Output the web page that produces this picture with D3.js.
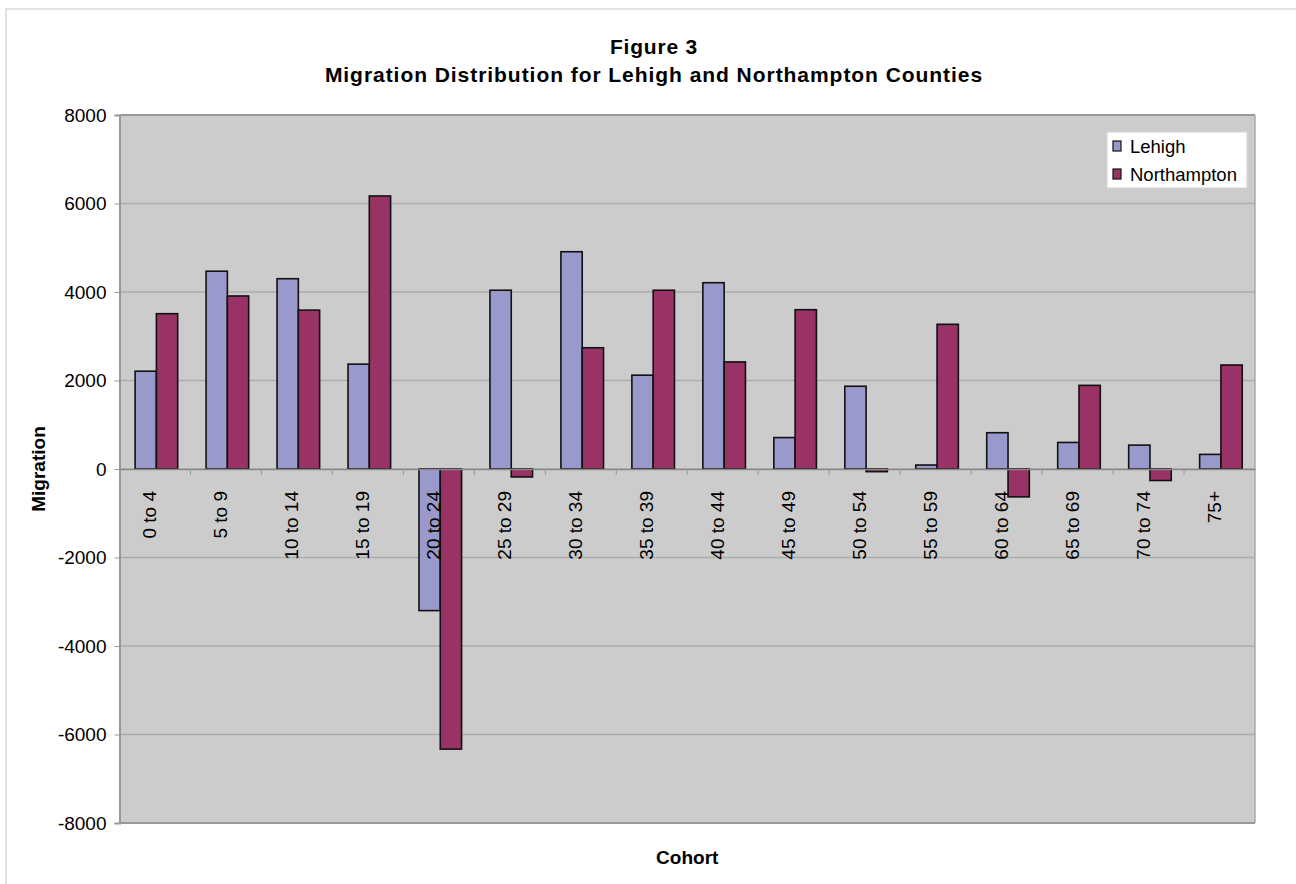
<!DOCTYPE html>
<html>
<head>
<meta charset="utf-8">
<script src="https://cdn.jsdelivr.net/npm/d3@7"></script>
<style>
  body { margin: 0; background: #fff; }
  text { font-family: "Liberation Sans", Arial, sans-serif; fill: #000; }
</style>
</head>
<body>
<script>
// Данные графика
const cohorts = ["0 to 4", "5 to 9", "10 to 14", "15 to 19", "20 to 24", "25 to 29", "30 to 34", "35 to 39",
  "40 to 44", "45 to 49", "50 to 54", "55 to 59", "60 to 64", "65 to 69", "70 to 74", "75+"];
const series = ["Lehigh", "Northampton"];
const lehigh = [2210, 4470, 4300, 2370, -3200, 4040, 4910, 2120, 4210, 710, 1870, 90, 820, 600, 540, 330];
const northampton = [3510, 3910, 3590, 6170, -6330, -180, 2740, 4040, 2420, 3600, -60, 3270, -630, 1890, -260, 2350];
const yTicks = [-8000, -6000, -4000, -2000, 0, 2000, 4000, 6000, 8000];
const colors = ["#9999cc", "#993366"];

const width = 1296;
const height = 884;
const plot = { left: 119.5, right: 1255, top: 115, bottom: 823 };

const svg = d3.select("body").append("svg").attr("width", width).attr("height", height);

// рамка всей диаграммы
svg.append("rect")
  .attr("x", 6).attr("y", 9).attr("width", 1310).attr("height", 900)
  .attr("fill", "none").attr("stroke", "#e2e2e2").attr("stroke-width", 2);

const x0 = d3.scaleBand().domain(cohorts).range([plot.left, plot.right]);
const x1 = d3.scaleBand().domain(series).range([x0.bandwidth() * 0.22, x0.bandwidth() * 0.82]);
const y = d3.scaleLinear().domain([-8000, 8000]).range([plot.bottom, plot.top]);

// фон области построения
svg.append("rect")
  .attr("x", plot.left).attr("y", plot.top)
  .attr("width", plot.right - plot.left).attr("height", plot.bottom - plot.top)
  .attr("fill", "#cccccc");

// сетка
svg.selectAll(".grid")
  .data(yTicks)
  .enter()
  .append("line")
  .attr("class", "grid")
  .attr("x1", plot.left).attr("x2", plot.right)
  .attr("y1", (d) => y(d)).attr("y2", (d) => y(d))
  .attr("stroke", (d) => (d === 8000 || d === -8000 ? "#999" : "#acacac"))
  .attr("stroke-width", (d) => (d === 8000 || d === -8000 ? 2 : 1.3));

// правая граница
svg.append("line")
  .attr("x1", plot.right).attr("x2", plot.right).attr("y1", plot.top).attr("y2", plot.bottom)
  .attr("stroke", "#aaa").attr("stroke-width", 1.5);

// ось Y (обычный дефис вместо знака минус)
const yAxis = svg.append("g")
  .attr("transform", `translate(${plot.left},0)`)
  .call(d3.axisLeft(y).tickValues(yTicks).tickSize(5).tickPadding(8).tickFormat((d) => String(d)));
yAxis.select(".domain").attr("stroke", "#999").attr("stroke-width", 2);
yAxis.selectAll(".tick line").attr("stroke", "#999");
yAxis.selectAll("text").style("font-size", "19px").attr("fill", "#111");

// столбцы
const data = cohorts.map((c, i) => ({ cohort: c, values: [lehigh[i], northampton[i]] }));

const groups = svg.selectAll(".cohort")
  .data(data)
  .enter()
  .append("g")
  .attr("class", "cohort")
  .attr("transform", (d) => `translate(${x0(d.cohort)},0)`);

groups.selectAll("rect")
  .data((d) => d.values.map((v, j) => ({ key: series[j], value: v, j: j })))
  .enter()
  .append("rect")
  .attr("x", (d) => x1(d.key))
  .attr("width", x1.bandwidth())
  .attr("y", (d) => y(Math.max(0, d.value)))
  .attr("height", (d) => Math.abs(y(d.value) - y(0)))
  .attr("fill", (d) => colors[d.j])
  .attr("stroke", "#111")
  .attr("stroke-width", 1.6);

// ось X (по нулю)
const xAxis = svg.append("g")
  .attr("transform", `translate(0,${y(0)})`)
  .call(d3.axisBottom(x0).tickSize(0).tickFormat(""));
xAxis.select(".domain").attr("stroke", "#888").attr("stroke-width", 1.5);

svg.selectAll(".xtick")
  .data(cohorts.slice(1))
  .enter()
  .append("line")
  .attr("class", "xtick")
  .attr("x1", (d) => x0(d)).attr("x2", (d) => x0(d))
  .attr("y1", y(0)).attr("y2", y(0) + 6)
  .attr("stroke", "#999");

svg.selectAll(".xlabel")
  .data(cohorts)
  .enter()
  .append("text")
  .attr("class", "xlabel")
  .attr("transform", (d) => `translate(${x0(d) + x0.bandwidth() / 2 + 1},${y(0) + 22}) rotate(-90)`)
  .attr("text-anchor", "end")
  .style("font-size", "19px")
  .attr("fill", "#111")
  .text((d) => d);

// заголовки
svg.append("text")
  .attr("x", 654).attr("y", 54)
  .attr("text-anchor", "middle")
  .style("font-size", "21px").style("font-weight", "bold")
  .style("letter-spacing", "0.8px")
  .text("Figure 3");

svg.append("text")
  .attr("x", 654).attr("y", 82)
  .attr("text-anchor", "middle")
  .style("font-size", "21px").style("font-weight", "bold")
  .style("letter-spacing", "0.95px")
  .text("Migration Distribution for Lehigh and Northampton Counties");

svg.append("text")
  .attr("x", (plot.left + plot.right) / 2).attr("y", 864)
  .attr("text-anchor", "middle")
  .style("font-size", "19px").style("font-weight", "bold")
  .text("Cohort");

svg.append("text")
  .attr("transform", `translate(45,${y(0)}) rotate(-90)`)
  .attr("text-anchor", "middle")
  .style("font-size", "19px").style("font-weight", "bold")
  .text("Migration");

// легенда
const legend = svg.append("g").attr("transform", "translate(1107,132)");
legend.append("rect")
  .attr("width", 140).attr("height", 56)
  .attr("fill", "#fff").attr("stroke", "#d4d4d4");

const items = legend.selectAll(".item")
  .data(series)
  .enter()
  .append("g")
  .attr("class", "item")
  .attr("transform", (d, i) => `translate(6,${9 + i * 28})`);

items.append("rect")
  .attr("width", 8).attr("height", 10)
  .attr("fill", (d, i) => colors[i])
  .attr("stroke", "#111").attr("stroke-width", 1.2);

items.append("text")
  .attr("x", 17).attr("y", 12)
  .style("font-size", "18.5px")
  .text((d) => d);
</script>
</body>
</html>
